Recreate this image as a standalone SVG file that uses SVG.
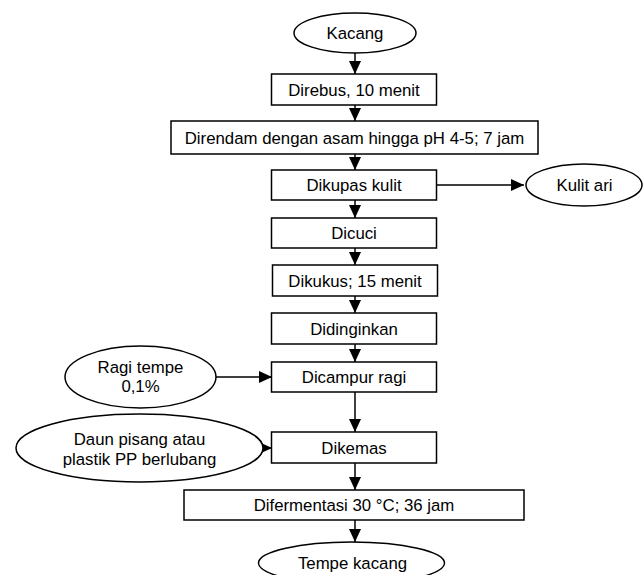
<svg xmlns="http://www.w3.org/2000/svg" width="643" height="575" viewBox="0 0 643 575">
<defs>
<style>
.box{fill:#fff;stroke:#000;stroke-width:1.5}
.lbl{font-family:"Liberation Sans",Arial,sans-serif;font-size:16.8px;fill:#000;text-anchor:middle}
.con{fill:none;stroke:#000;stroke-width:1.5}
</style>
<marker id="ah" markerUnits="userSpaceOnUse" markerWidth="13" markerHeight="12" refX="13" refY="6" orient="auto">
<path d="M0,0 L13,6 L0,12 z" fill="#000"/>
</marker>
</defs>
<rect width="643" height="575" fill="#fff"/>
<g id="connectors">
<path class="con" d="M355,53 V74" marker-end="url(#ah)"/>
<path class="con" d="M355,105 V121" marker-end="url(#ah)"/>
<path class="con" d="M355,154 V170" marker-end="url(#ah)"/>
<path class="con" d="M437,185 H524" marker-end="url(#ah)"/>
<path class="con" d="M355,200 V218" marker-end="url(#ah)"/>
<path class="con" d="M355,248 V265" marker-end="url(#ah)"/>
<path class="con" d="M355,296 V313" marker-end="url(#ah)"/>
<path class="con" d="M355,344 V362" marker-end="url(#ah)"/>
<path class="con" d="M216,377 H272" marker-end="url(#ah)"/>
<path class="con" d="M355,392 V432" marker-end="url(#ah)"/>
<path class="con" d="M262,448 H272" marker-end="url(#ah)"/>
<path class="con" d="M355,463 V490" marker-end="url(#ah)"/>
<path class="con" d="M355,520 V542" marker-end="url(#ah)"/>
</g>
<g id="kacang">
<ellipse class="box" cx="355" cy="33" rx="61" ry="20"/>
<text class="lbl" x="355" y="39">Kacang</text>
</g>
<g id="direbus">
<rect class="box" x="271.5" y="74" width="165" height="31"/>
<text class="lbl" x="354" y="95.5">Direbus, 10 menit</text>
</g>
<g id="direndam">
<rect class="box" x="171" y="121" width="367" height="33"/>
<text class="lbl" x="354.5" y="143.5">Direndam dengan asam hingga pH 4-5; 7 jam</text>
</g>
<g id="dikupas">
<rect class="box" x="271.5" y="170" width="165" height="30"/>
<text class="lbl" x="354" y="191">Dikupas kulit</text>
</g>
<g id="kulit-ari">
<ellipse class="box" cx="584" cy="185" rx="58" ry="21"/>
<text class="lbl" x="584.5" y="191">Kulit ari</text>
</g>
<g id="dicuci">
<rect class="box" x="271.5" y="218" width="165" height="30"/>
<text class="lbl" x="354" y="239">Dicuci</text>
</g>
<g id="dikukus">
<rect class="box" x="272.5" y="265" width="165" height="31"/>
<text class="lbl" x="355" y="286.5">Dikukus; 15 menit</text>
</g>
<g id="didinginkan">
<rect class="box" x="271.5" y="313" width="165" height="31"/>
<text class="lbl" x="354" y="334.5">Didinginkan</text>
</g>
<g id="dicampur">
<rect class="box" x="271.5" y="362" width="165" height="30"/>
<text class="lbl" x="354" y="383">Dicampur ragi</text>
</g>
<g id="ragi-tempe">
<ellipse class="box" cx="140.5" cy="377" rx="75.5" ry="31"/>
<text class="lbl" x="140.5" y="372.5">Ragi tempe</text>
<text class="lbl" x="140.5" y="392">0,1%</text>
</g>
<g id="dikemas">
<rect class="box" x="271.5" y="432" width="165" height="31"/>
<text class="lbl" x="354" y="453.5">Dikemas</text>
</g>
<g id="daun-pisang">
<ellipse class="box" cx="139.5" cy="448" rx="123.5" ry="34"/>
<text class="lbl" x="139.5" y="445">Daun pisang atau</text>
<text class="lbl" x="139.5" y="465">plastik PP berlubang</text>
</g>
<g id="difermentasi">
<rect class="box" x="184" y="490" width="340" height="30"/>
<text class="lbl" x="354" y="511">Difermentasi 30 °C; 36 jam</text>
</g>
<g id="tempe-kacang">
<ellipse class="box" cx="351.5" cy="563" rx="93" ry="21"/>
<text class="lbl" x="352.5" y="569">Tempe kacang</text>
</g>
</svg>
